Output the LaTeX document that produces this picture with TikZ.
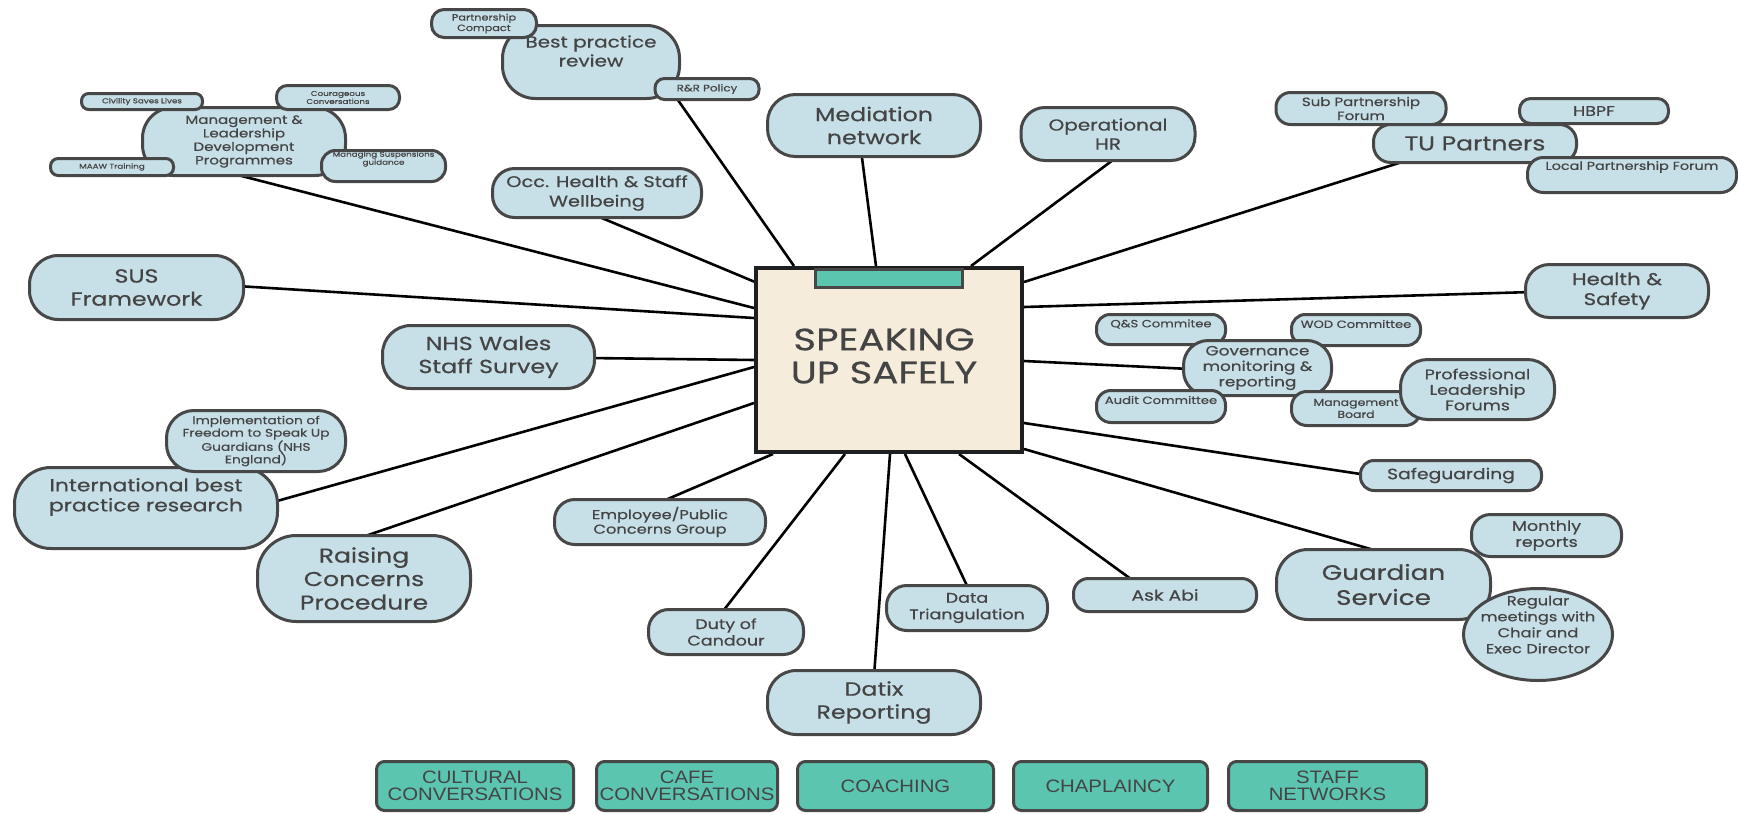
\documentclass[tikz,border=0pt]{standalone}
\usepackage{fontspec}
\setmainfont{Poppins}[FakeStretch=1.25,FakeBold=0.5]
\newfontfamily\boxfont{Liberation Sans}[FakeStretch=1.13]
\usetikzlibrary{shapes.geometric,calc}
\definecolor{bubfill}{HTML}{C7DFE6}
\definecolor{edge}{HTML}{474747}
\definecolor{ink}{HTML}{444444}
\definecolor{tealc}{HTML}{5BC5B0}
\definecolor{paper}{HTML}{F5ECDB}
\pgfdeclarelayer{bg}
\pgfsetlayers{bg,main}
\newcommand\fs[2]{\fontsize{#1}{#2}\selectfont}
\newcommand\bub[6]{\pgfmathsetmacro\bubr{0.45*#5}%
  \node[bubble, minimum width=#4pt, minimum height=#5pt, rounded corners=\bubr pt, #6] (#1) at (#2,#3)}
\begin{document}
\begin{tikzpicture}[x=1pt,y=-1pt,
  bubble/.style={draw=edge, fill=bubfill, line width=3pt, text=ink, align=center, inner sep=0pt},
  oval/.style={ellipse, draw=edge, fill=bubfill, line width=3pt, text=ink, align=center, inner sep=0pt},
  lbl/.style={text=ink, align=center, inner sep=0pt},
  conn/.style={line width=2.6pt, black},
  tag/.style={draw=edge, fill=tealc, line width=3pt, rounded corners=8pt, text=ink, align=center,
    inner sep=0pt, minimum height=49pt, font=\boxfont\fs{18}{17}}
]
\useasboundingbox (0,0) rectangle (1738,814);

% central box
\node[draw=black!88, fill=paper, line width=4pt, outer sep=0pt, minimum width=266pt, minimum height=184pt, inner sep=0pt,
  label={[lbl,name=title,font=\fs{31}{33},xshift=-5pt,yshift=4pt]center:{SPEAKING\\UP SAFELY}}] (box) at (889,360) {};
\node[draw=edge, fill=tealc, line width=3pt, minimum width=147pt, minimum height=18pt, inner sep=0pt, anchor=north] (tab) at (box.north) {};

% top left cluster
\bub{bp}{591}{62}{177}{73}{label={[lbl,name=bpt,font=\fs{16}{19},yshift=11pt]center:{Best practice\\review}}}{};
\bub{pc}{484}{23.5}{105}{28}{font=\fs{9}{10.5}}{Partnership\\Compact};
\bub{rr}{707}{89}{104}{21}{font=\fs{9.5}{11}}{R\&R Policy};
\bub{mg}{244}{141.5}{203}{68}{font=\fs{12}{13.5}}{Management \&\\Leadership\\Development\\Programmes};
\bub{csl}{142}{101.5}{121}{16}{font=\fs{7}{8}}{Civility Saves Lives};
\bub{cc}{338}{97.5}{123}{24}{font=\fs{7}{8}}{Courageous\\Conversations};
\bub{maaw}{112}{167}{123}{17}{font=\fs{7}{8}}{MAAW Training};
\bub{msg}{383.5}{166}{124}{31}{label={[lbl,name=msgt,font=\fs{7}{8},yshift=7pt]center:{Managing Suspensions\\guidance}}}{};
\bub{occ}{597}{193}{209}{49}{font=\fs{15.5}{19.5}}{Occ. Health \& Staff\\Wellbeing};
\bub{med}{874}{125.5}{213}{62}{font=\fs{19}{23}}{Mediation\\network};
\bub{ohr}{1108}{134}{174}{53}{font=\fs{16}{19}}{Operational\\HR};

% TU cluster
\bub{spf}{1361}{108.5}{170}{32}{font=\fs{12}{14}}{Sub Partnership\\Forum};
\bub{hbpf}{1594}{111}{149}{25}{font=\fs{14}{17}}{HBPF};
\bub{tu}{1475}{143.5}{203}{38}{font=\fs{20}{24}}{TU Partners};
\bub{lpf}{1632}{175}{209}{35}{label={[lbl,name=lpft,font=\fs{11.5}{14},yshift=8pt]center:{Local Partnership Forum}}}{};

% left side
\bub{sus}{136.5}{287.5}{214}{64}{font=\fs{19}{23}}{SUS\\Framework};
\bub{nhs}{488.5}{357}{212}{63}{font=\fs{19}{23}}{NHS Wales\\Staff Survey};
\bub{ibp}{146}{508}{263}{81}{label={[lbl,name=ibpt,font=\fs{17.5}{20},yshift=11pt]center:{International best\\practice research}}}{};
\bub{imp}{256}{441}{179}{61}{font=\fs{11}{12.5}}{Implementation of\\Freedom to Speak Up\\Guardians (NHS\\England)};
\bub{rc}{364}{578.5}{213}{86}{font=\fs{20}{23.5}}{Raising\\Concerns\\Procedure};
\bub{epc}{660}{522}{211}{45}{font=\fs{13}{14.5}}{Employee/Public\\Concerns Group};

% right side
\bub{hs}{1617}{291}{183}{53}{font=\fs{17}{20}}{Health \&\\Safety};
\bub{qs}{1161}{329.5}{129}{30}{label={[lbl,name=qst,font=\fs{10.5}{12},yshift=5.5pt]center:{Q\&S Commitee}}}{};
\bub{wod}{1356}{330}{129}{31}{label={[lbl,name=wodt,font=\fs{10.5}{12},yshift=6pt]center:{WOD Committee}}}{};
\bub{gov}{1257.5}{368}{148}{55}{font=\fs{13.5}{15.5}}{Governance\\monitoring \&\\reporting};
\bub{aud}{1161}{406.5}{129}{32}{label={[lbl,name=audt,font=\fs{10.5}{12},yshift=6.5pt]center:{Audit Committee}}}{};
\bub{mb}{1356}{408.5}{129}{34}{font=\fs{10}{12}}{Management\\Board};
\bub{plf}{1477.5}{389.5}{154}{60}{font=\fs{14}{15.5}}{Professional\\Leadership\\Forums};
\bub{sg}{1451}{475.5}{181}{30}{font=\fs{15}{18}}{Safeguarding};
\bub{gs}{1383.5}{584.5}{214}{70}{font=\fs{21}{25}}{Guardian\\Service};
\bub{mr}{1546.5}{535.5}{150}{42}{font=\fs{14}{16}}{Monthly\\reports};
\node[oval, minimum width=149pt, minimum height=92pt,
  label={[lbl,name=regt,font=\fs{13}{16},yshift=10pt]center:{Regular\\meetings with\\Chair and\\Exec Director}}] (reg) at (1538,634.5) {};

% bottom
\bub{abi}{1165}{595}{183}{33}{font=\fs{15}{18}}{Ask Abi};
\bub{dt}{967}{608}{161}{45}{font=\fs{14}{16.5}}{Data\\Triangulation};
\bub{doc}{726}{632}{155}{45}{font=\fs{14}{16.5}}{Duty of\\Candour};
\bub{dx}{874}{702.5}{213}{64}{font=\fs{19}{23}}{Datix\\Reporting};

% bottom tags
\node[tag, minimum width=197pt] (cul) at (475,786) {CULTURAL\\CONVERSATIONS};
\node[tag, minimum width=181pt] (cafe) at (687,786) {CAFE\\CONVERSATIONS};
\node[tag, minimum width=196pt] (coach) at (895.5,786) {COACHING};
\node[tag, minimum width=194pt] (chap) at (1110.5,786) {CHAPLAINCY};
\node[tag, minimum width=198pt] (staff) at (1327.5,786) {STAFF\\NETWORKS};

% connectors
\begin{pgfonlayer}{bg}
\draw[conn] ([shift={(-135,-52)}]box.center) -- ([shift={(-14,31.5)}]mg.center);
\draw[conn] ([shift={(-95,-94)}]box.center) -- ([shift={(82,31)}]bp.center);
\draw[conn] ([shift={(-13,-94)}]box.center) -- ([shift={(-13,24.5)}]med.center);
\draw[conn] ([shift={(82,-94)}]box.center) -- ([shift={(9,23)}]ohr.center);
\draw[conn] ([shift={(135,-78)}]box.center) -- ([shift={(-62,15)}]tu.center);
\draw[conn] ([shift={(-134,-78)}]box.center) -- ([shift={(-12,18)}]occ.center);
\draw[conn] ([shift={(-135,-42)}]box.center) -- ([shift={(100.5,-1.5)}]sus.center);
\draw[conn] ([shift={(135,-53)}]box.center) -- ([shift={(-85,1)}]hs.center);
\draw[conn] ([shift={(-135,0)}]box.center) -- ([shift={(99.5,1)}]nhs.center);
\draw[conn] ([shift={(135,1)}]box.center) -- ([shift={(-67.5,1)}]gov.center);
\draw[conn] ([shift={(-135,7)}]box.center) -- ([shift={(99,2)}]ibp.center);
\draw[conn] ([shift={(-135,43)}]box.center) -- ([shift={(-6,-40)}]rc.center);
\draw[conn] ([shift={(135,63)}]box.center) -- ([shift={(-84,-0.5)}]sg.center);
\draw[conn] ([shift={(-116,94)}]box.center) -- ([shift={(-4,-18)}]epc.center);
\draw[conn] ([shift={(135,89)}]box.center) -- ([shift={(6,-30)}]gs.center);
\draw[conn] ([shift={(70,94)}]box.center) -- ([shift={(-30,-13)}]abi.center);
\draw[conn] ([shift={(16,94)}]box.center) -- ([shift={(2,-18)}]dt.center);
\draw[conn] ([shift={(-44,94)}]box.center) -- ([shift={(-6,-17)}]doc.center);
\draw[conn] ([shift={(1,94)}]box.center) -- ([shift={(0,-26)}]dx.center);
\end{pgfonlayer}
\end{tikzpicture}
\end{document}
